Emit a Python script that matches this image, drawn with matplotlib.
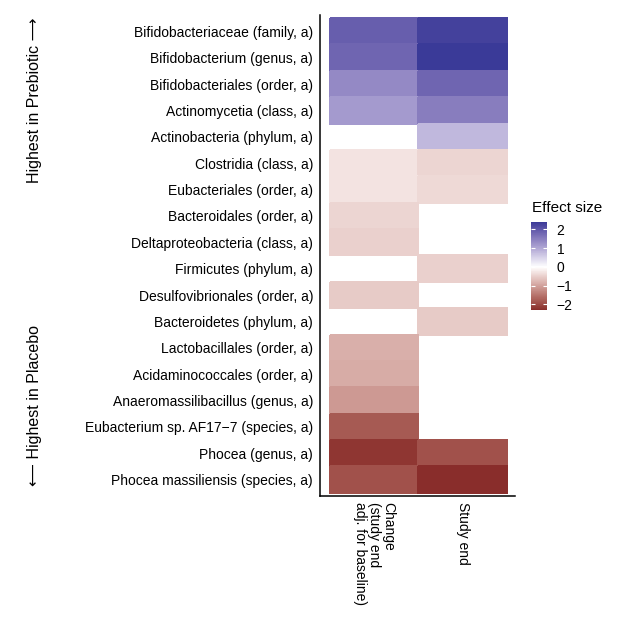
import numpy as np
import matplotlib
matplotlib.use("Agg")
import matplotlib.pyplot as plt

plt.rcParams['font.family'] = ['Liberation Sans', 'DejaVu Sans']

# taxa from top to bottom, effect sizes (nan = not shown)
taxa = ["Bifidobacteriaceae (family, a)", "Bifidobacterium (genus, a)",
        "Bifidobacteriales (order, a)", "Actinomycetia (class, a)",
        "Actinobacteria (phylum, a)", "Clostridia (class, a)",
        "Eubacteriales (order, a)", "Bacteroidales (order, a)",
        "Deltaproteobacteria (class, a)", "Firmicutes (phylum, a)",
        "Desulfovibrionales (order, a)", "Bacteroidetes (phylum, a)",
        "Lactobacillales (order, a)", "Acidaminococcales (order, a)",
        "Anaeromassilibacillus (genus, a)", "Eubacterium sp. AF17\u22127 (species, a)",
        "Phocea (genus, a)", "Phocea massiliensis (species, a)"]
nan = np.nan
change = [1.9, 1.8, 1.35, 1.15, nan, -0.3, -0.3, -0.45, -0.5, nan, -0.55, nan,
          -0.85, -0.9, -1.1, -1.8, -2.2, -1.9]
study_end = [2.3, 2.4, 1.8, 1.5, 0.8, -0.45, -0.4, nan, nan, -0.5, nan, -0.55,
             nan, nan, nan, nan, -1.9, -2.3]
columns = ["Change\n(study end\nadj. for baseline)", "Study end"]
cb_ticks = [-2, -1, 0, 1, 2]

# ggplot-like gradient2 (muted red - white - muted blue), interpolated in CIELAB
M = np.array([[0.4124, 0.3576, 0.1805], [0.2126, 0.7152, 0.0722], [0.0193, 0.1192, 0.9505]])
WHITE = np.array([0.95047, 1.0, 1.08883])

def hex_to_lab(h):
    rgb = np.array([int(h[i:i + 2], 16) for i in (1, 3, 5)]) / 255
    lin = np.where(rgb <= 0.04045, rgb / 12.92, ((rgb + 0.055) / 1.055) ** 2.4)
    xyz = M @ lin / WHITE
    f = np.where(xyz > 0.008856, np.cbrt(xyz), 7.787 * xyz + 16 / 116)
    return np.array([116 * f[1] - 16, 500 * (f[0] - f[1]), 200 * (f[1] - f[2])])

def lab_to_rgb(lab):
    fy = (lab[:, 0] + 16) / 116
    f = np.stack([fy + lab[:, 1] / 500, fy, fy - lab[:, 2] / 200], axis=1)
    xyz = np.where(f > 0.206893, f ** 3, (f - 16 / 116) / 7.787) * WHITE
    lin = xyz @ np.linalg.inv(M).T
    rgb = np.where(lin <= 0.0031308, 12.92 * lin, 1.055 * np.clip(lin, 0, None) ** (1 / 2.4) - 0.055)
    return np.clip(rgb, 0, 1)

low, mid, high = hex_to_lab("#832424"), hex_to_lab("#FFFFFF"), hex_to_lab("#3A3A98")
t = np.linspace(0, 1, 256)[:, None]
lab = np.where(t < 0.5, low + (mid - low) * (t / 0.5), mid + (high - mid) * ((t - 0.5) / 0.5))
cmap = matplotlib.colors.ListedColormap(lab_to_rgb(lab))

vals = np.ma.masked_invalid(np.column_stack([change, study_end]))
lim = np.nanmax(np.abs(vals.filled(nan)))

fig = plt.figure(figsize=(6.27, 6.24), dpi=100)
ax = fig.add_axes([0.5104, 0.2051, 0.311, 0.771])
mesh = ax.pcolormesh(np.arange(len(columns) + 1) - 0.5, np.arange(len(taxa) + 1) - 0.5, vals,
                     cmap=cmap, vmin=-lim, vmax=lim, edgecolors='face', linewidth=0.3)
ax.set_xlim(-0.61, 1.59)
ax.set_ylim(len(taxa) - 0.38, -0.62)
for s in ['top', 'right']:
    ax.spines[s].set_visible(False)
for s in ['left', 'bottom']:
    ax.spines[s].set_linewidth(1.1)
ax.set_yticks(range(len(taxa)))
ax.set_yticklabels(taxa, fontsize=10)
ax.set_xticks(range(len(columns)))
ax.set_xticklabels(columns, fontsize=10, rotation=-90, ha='center', va='top',
                   multialignment='left', linespacing=1.0)
ax.tick_params(axis='y', length=0, pad=5)
ax.tick_params(axis='x', length=0, pad=4.5)

fig.text(35 / 627, 1 - 100 / 624, "Highest in Prebiotic \u27f6", rotation=90, ha='center', va='center', fontsize=11.5)
fig.text(35 / 627, 1 - 405 / 624, "\u27f5 Highest in Placebo", rotation=90, ha='center', va='center', fontsize=11.5)

# legend
cax = fig.add_axes([531 / 627, 1 - 310 / 624, 16 / 627, 88 / 624])
cb = fig.colorbar(mesh, cax=cax, boundaries=np.linspace(np.nanmin(vals.filled(nan)), lim, 300), ticks=cb_ticks)
cb.outline.set_visible(False)
cax.tick_params(direction='in', color='white', length=3, width=0.8, left=True, right=True, labelsize=10, pad=7)
fig.text(532 / 627, 1 - 208 / 624, "Effect size", ha='left', va='center', fontsize=11)

fig.savefig("out.png", dpi=100)
